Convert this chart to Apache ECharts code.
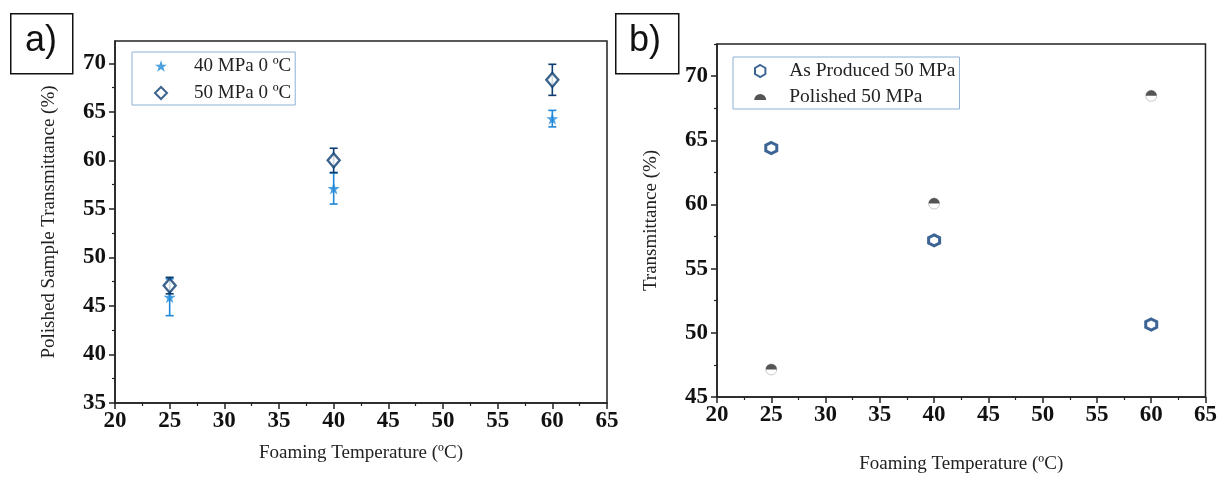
<!DOCTYPE html>
<html>
<head>
<meta charset="utf-8">
<script src="https://cdn.jsdelivr.net/npm/echarts@6/dist/echarts.min.js"></script>
<style>html,body{margin:0;padding:0;background:#fff;}#c{width:1220px;height:479px;}</style>
</head>
<body>
<div id="c"></div>
<script>
// ---- data ----
var temps = [25, 40, 60];
var a40 = [45.9, 57.1, 64.3];
var a40Err = [1.9, 1.6, 0.85];
var a50 = [47.1, 60.0, 68.3];
var a50Err = [0.85, 1.25, 1.6];
var bAsProduced = [64.4, 57.2, 50.65];
var bPolished = [47.15, 60.07, 68.46];
var xTicks = [20, 25, 30, 35, 40, 45, 50, 55, 60, 65];
var yTicksA = [35, 40, 45, 50, 55, 60, 65, 70];
var yMinorA = [37.5, 42.5, 47.5, 52.5, 57.5, 62.5, 67.5, 72.5];
var yTicksB = [45, 50, 55, 60, 65, 70];
var yMinorB = [47.5, 52.5, 57.5, 62.5, 67.5, 72.5];
var names = ['40 MPa 0 ºC', '50 MPa 0 ºC', 'As Produced 50 MPa', 'Polished 50 MPa'];
var xTitle = 'Foaming Temperature (ºC)';
var yTitleA = 'Polished Sample Transmittance (%)';
var yTitleB = 'Transmittance (%)';

var LB = '#1f88d8', DB = '#0d3d70', HB = '#0b3f7c';
var serif = '"Liberation Serif", "Times New Roman", serif';
var starPath = 'path://M50,0 L61.8,34.5 L97.6,34.5 L68.8,56 L79.4,90.5 L50,69 L20.6,90.5 L31.2,56 L2.4,34.5 L38.2,34.5 Z';
var hexPath = 'path://M5,0 L9.33,2.5 L9.33,7.5 L5,10 L0.67,7.5 L0.67,2.5 Z';
var domePath = 'path://M0,5 A5,5 0 0 1 10,5 Z';

function pairs(xs, ys) { return xs.map(function (x, i) { return [x, ys[i]]; }); }
function errs(xs, ys, es) { return xs.map(function (x, i) { return [x, ys[i] - es[i], ys[i] + es[i]]; }); }
function errRender(color) {
  return function (params, api) {
    var x = api.value(0), lo = api.value(1), hi = api.value(2);
    var p1 = api.coord([x, hi]), p2 = api.coord([x, lo]);
    var w = 4;
    var st = { stroke: color, lineWidth: 1.6 };
    return { type: 'group', children: [
      { type: 'line', shape: { x1: p1[0], y1: p1[1], x2: p2[0], y2: p2[1] }, style: st },
      { type: 'line', shape: { x1: p1[0] - w, y1: p1[1], x2: p1[0] + w, y2: p1[1] }, style: st },
      { type: 'line', shape: { x1: p2[0] - w, y1: p2[1], x2: p2[0] + w, y2: p2[1] }, style: st }
    ]};
  };
}

var tickLabel = { fontFamily: serif, fontWeight: 'bold', fontSize: 23, color: '#111' };
var titleStyle = { fontFamily: serif, fontSize: 19, color: '#222' };
var axisLineS = { show: true, lineStyle: { color: '#222', width: 1.5 } };

function xAxisDef(gi, gap) {
  return {
    type: 'value', gridIndex: gi, min: 20, max: 65, interval: 5,
    name: xTitle, nameLocation: 'middle', nameGap: gap, nameTextStyle: titleStyle,
    axisLine: axisLineS,
    axisTick: { show: true, length: 6, lineStyle: { color: '#222', width: 1.5 } },
    minorTick: { show: true, splitNumber: 2, length: 3, lineStyle: { color: '#222', width: 1.2 } },
    axisLabel: Object.assign({ margin: 7 }, tickLabel),
    splitLine: { show: false }
  };
}
function yAxisMain(gi, min, max, ticks, title) {
  return {
    type: 'value', gridIndex: gi, min: min, max: max, interval: 5,
    name: title, nameLocation: 'middle', nameGap: 56, nameTextStyle: titleStyle,
    axisLine: axisLineS,
    axisTick: { show: true, length: 6, customValues: ticks, lineStyle: { color: '#222', width: 1.5 } },
    axisLabel: Object.assign({ margin: 9, customValues: ticks }, tickLabel),
    splitLine: { show: false }
  };
}
function yAxisMinor(gi, min, max, ticks) {
  return {
    type: 'value', gridIndex: gi, min: min, max: max, position: 'left',
    axisLine: { show: false },
    axisTick: { show: true, length: 3, customValues: ticks, lineStyle: { color: '#222', width: 1.2 } },
    axisLabel: { show: false },
    splitLine: { show: false }
  };
}

var chart = echarts.init(document.getElementById('c'), null, { renderer: 'canvas' });
chart.setOption({
  animation: false,
  backgroundColor: '#fff',
  grid: [
    { left: 115, top: 41, width: 492, height: 362, show: true, borderColor: '#222', borderWidth: 1.5, backgroundColor: 'transparent' },
    { left: 717, top: 44, width: 490, height: 359, show: true, borderColor: '#222', borderWidth: 1.5, backgroundColor: 'transparent' }
  ],
  xAxis: [xAxisDef(0, 41), xAxisDef(1, 58)],
  yAxis: [
    yAxisMain(0, 35, 72.3, yTicksA, yTitleA),
    yAxisMinor(0, 35, 72.3, yMinorA),
    yAxisMain(1, 45, 72.5, yTicksB, yTitleB),
    yAxisMinor(1, 45, 72.5, yMinorB)
  ],
  legend: [
    {
      left: 132, top: 52, orient: 'vertical', data: [names[0], names[1]],
      borderColor: '#8fb0d6', borderWidth: 1, padding: [4, 4, 2, 22],
      itemWidth: 12, itemHeight: 12, itemGap: 7,
      textStyle: { fontFamily: serif, fontSize: 19, color: '#222', lineHeight: 20, padding: [0, 0, 0, 22] }
    },
    {
      left: 733, top: 57, orient: 'vertical',
      data: [names[2], { name: names[3], icon: domePath }],
      borderColor: '#8fb0d6', borderWidth: 1, padding: [4, 4, 2, 21],
      itemWidth: 12, itemHeight: 12, itemGap: 6,
      textStyle: { fontFamily: serif, fontSize: 19.5, color: '#222', lineHeight: 20, padding: [0, 0, 0, 18] }
    }
  ],
  graphic: [
    { type: 'rect', left: 10, top: 13, shape: { width: 62, height: 60 }, style: { fill: '#fff', stroke: '#111', lineWidth: 1.5 } },
    { type: 'text', left: 25, top: 23, style: { text: 'a)', font: '36px "Liberation Sans", sans-serif', fill: '#111' } },
    { type: 'rect', left: 615, top: 13, shape: { width: 63, height: 60 }, style: { fill: '#fff', stroke: '#111', lineWidth: 1.5 } },
    { type: 'text', left: 629, top: 23, style: { text: 'b)', font: '36px "Liberation Sans", sans-serif', fill: '#111' } }
  ],
  series: [
    { type: 'custom', name: names[0] + ' err', xAxisIndex: 0, yAxisIndex: 0, encode: { x: 0, y: [1, 2] },
      renderItem: errRender(LB), data: errs(temps, a40, a40Err), z: 2, silent: true },
    { type: 'scatter', name: names[0], xAxisIndex: 0, yAxisIndex: 0, symbol: starPath, symbolSize: 12,
      itemStyle: { color: LB }, data: pairs(temps, a40), z: 3 },
    { type: 'custom', name: names[1] + ' err', xAxisIndex: 0, yAxisIndex: 0, encode: { x: 0, y: [1, 2] },
      renderItem: errRender(DB), data: errs(temps, a50, a50Err), z: 4, silent: true },
    { type: 'scatter', name: names[1], xAxisIndex: 0, yAxisIndex: 0, symbol: 'diamond', symbolSize: [12, 14],
      itemStyle: { color: '#fff', borderColor: DB, borderWidth: 2.4 }, data: pairs(temps, a50), z: 5 },
    { type: 'scatter', name: names[2], xAxisIndex: 1, yAxisIndex: 2, symbol: hexPath, symbolSize: 11,
      itemStyle: { color: '#fff', borderColor: HB, borderWidth: 3 }, data: pairs(temps, bAsProduced), z: 3 },
    { type: 'scatter', name: 'polished-base', xAxisIndex: 1, yAxisIndex: 2, symbol: 'circle', symbolSize: 11,
      itemStyle: { color: '#fff', borderColor: '#bbb', borderWidth: 1 }, data: pairs(temps, bPolished), z: 3, silent: true },
    { type: 'scatter', name: names[3], xAxisIndex: 1, yAxisIndex: 2, symbol: domePath, symbolSize: [11, 5.5], symbolOffset: [0, -2.75],
      itemStyle: { color: '#2a2a2a' }, data: pairs(temps, bPolished), z: 4 }
  ]
});
</script>
</body>
</html>
